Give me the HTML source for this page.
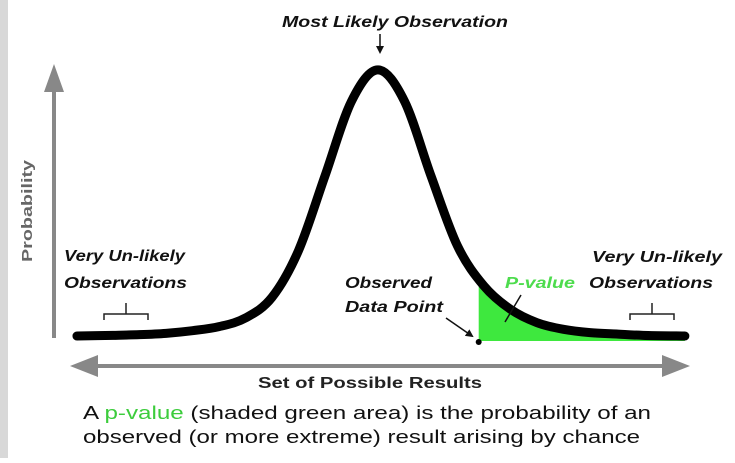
<!DOCTYPE html>
<html><head><meta charset="utf-8"><style>
body{margin:0;background:#fff;width:735px;height:458px;overflow:hidden;font-family:"Liberation Sans",sans-serif}
</style></head><body>
<svg width="735" height="458">
<rect x="0" y="0" width="8" height="458" fill="#d8d8d8"/>
<defs><marker id="ah" markerWidth="8" markerHeight="8" refX="6" refY="4" orient="auto" markerUnits="userSpaceOnUse"><path d="M0,0 L8,4 L0,8 z" fill="#111"/></marker></defs>
<g id="axes">
<line x1="54" y1="338" x2="54" y2="80" stroke="#888" stroke-width="4"/>
<path d="M54,64 L44,92 L64,92 z" fill="#888"/>
<line x1="85" y1="366" x2="670" y2="366" stroke="#888" stroke-width="4"/>
<path d="M70,366 L98,355 L98,377 z" fill="#888"/>
<path d="M690,366 L662,355 L662,377 z" fill="#888"/>
</g>
<g id="marks"></g>
<g font-weight="bold" font-style="italic" fill="#111" font-size="16">
<text x="282" y="27" textLength="226" lengthAdjust="spacingAndGlyphs">Most Likely Observation</text>
<line x1="380" y1="34" x2="380" y2="52" stroke="#111" stroke-width="1.5" marker-end="url(#ah)"/>
<text x="64" y="261" textLength="121" lengthAdjust="spacingAndGlyphs">Very Un-likely</text>
<text x="64" y="288" textLength="123" lengthAdjust="spacingAndGlyphs">Observations</text>
<text x="592" y="262" textLength="130" lengthAdjust="spacingAndGlyphs">Very Un-likely</text>
<text x="589" y="288" textLength="124" lengthAdjust="spacingAndGlyphs">Observations</text>
<text x="345" y="288" textLength="87" lengthAdjust="spacingAndGlyphs">Observed</text>
<text x="345" y="312" textLength="98" lengthAdjust="spacingAndGlyphs">Data Point</text>
<text x="505" y="288" textLength="70" lengthAdjust="spacingAndGlyphs" fill="#4ddc4d">P-value</text>
</g>
<path d="M104,320 v-6 h44 v6 M126,314 v-11" fill="none" stroke="#222" stroke-width="1.5"/>
<path d="M630,320 v-6 h44 v6 M652,314 v-11" fill="none" stroke="#222" stroke-width="1.5"/>
<line x1="446" y1="318" x2="472" y2="336" stroke="#111" stroke-width="1.5" marker-end="url(#ah)"/>
<line x1="521" y1="295" x2="505" y2="322" stroke="#111" stroke-width="1.5"/>
<text x="32" y="211" transform="rotate(-90 32 211)" text-anchor="middle" font-size="15" fill="#666" font-weight="bold" textLength="102" lengthAdjust="spacingAndGlyphs">Probability</text>
<text x="258" y="388" font-size="16" fill="#222" font-weight="bold" textLength="224" lengthAdjust="spacingAndGlyphs">Set of Possible Results</text>
<text x="83" y="419" font-size="18" fill="#111" textLength="568" lengthAdjust="spacingAndGlyphs">A <tspan fill="#3ccc3c">p-value</tspan> (shaded green area) is the probability of an</text>
<text x="83" y="443" font-size="18" fill="#111" textLength="557" lengthAdjust="spacingAndGlyphs">observed (or more extreme) result arising by chance</text>
</svg>
<script>
const xs=[-5.68,-5,-4.5,-4,-3.5,-3,-2.5,-2,-1.5,-1,-0.5,0,0.5,1,1.5,2,2.5,3,3.5,4,4.5,5,5.79];
const dens=[0,0.001,0.002,0.004,0.008,0.014,0.027,0.058,0.128,0.24,0.352,0.399,0.352,0.24,0.135,0.075,0.04,0.02,0.01,0.005,0.003,0.001,0];
const observedX=1.9;
const X=v=>378+v*53, Y=v=>336-v*667;
const g=document.getElementById('marks');
const ns='http://www.w3.org/2000/svg';
function path(pts){let d='M'+pts[0][0]+','+pts[0][1];for(let i=0;i<pts.length-1;i++){const p0=pts[Math.max(0,i-1)],p1=pts[i],p2=pts[i+1],p3=pts[Math.min(pts.length-1,i+2)];d+=' C'+(p1[0]+(p2[0]-p0[0])/6)+','+(p1[1]+(p2[1]-p0[1])/6)+' '+(p2[0]-(p3[0]-p1[0])/6)+','+(p2[1]-(p3[1]-p1[1])/6)+' '+p2[0]+','+p2[1];}return d;}
const pts=xs.map((x,i)=>[X(x),Y(dens[i])]);
const d=path(pts);
const cp=document.createElementNS(ns,'clipPath');cp.id='tail';
const r=document.createElementNS(ns,'rect');r.setAttribute('x',X(observedX));r.setAttribute('y',0);r.setAttribute('width',735);r.setAttribute('height',341);cp.appendChild(r);g.appendChild(cp);
const area=document.createElementNS(ns,'path');
area.setAttribute('d',d+' L'+X(xs[xs.length-1])+',341 L'+X(xs[0])+',341 Z');
area.setAttribute('fill','#3ee83e');area.setAttribute('clip-path','url(#tail)');


g.appendChild(area);
const c=document.createElementNS(ns,'path');
c.setAttribute('d',d);c.setAttribute('fill','none');c.setAttribute('stroke','#000');c.setAttribute('stroke-width','9');c.setAttribute('stroke-linecap','round');c.setAttribute('stroke-linejoin','round');


g.appendChild(c);
const dot=document.createElementNS(ns,'circle');
dot.setAttribute('cx',X(observedX));dot.setAttribute('cy',342);dot.setAttribute('r',3);dot.setAttribute('fill','#000');


g.appendChild(dot);
</script>
</body></html>
